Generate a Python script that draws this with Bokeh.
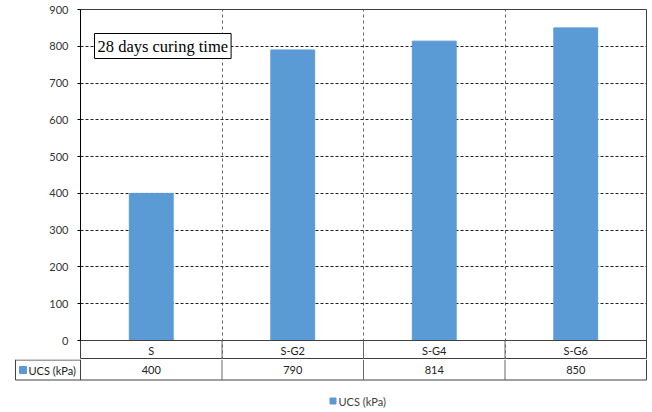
from bokeh.plotting import figure
from bokeh.models import Range1d, FixedTicker, Label
from bokeh.layouts import column
from bokeh.embed import file_html
from bokeh.resources import INLINE
from bokeh.core.properties import value

# ---- data ----
categories = ["S", "S-G2", "S-G4", "S-G6"]
ucs_values = [400, 790, 814, 850]
y_ticks = [0, 100, 200, 300, 400, 500, 600, 700, 800, 900]
series_name = "UCS (kPa)"
note_text = "28 days curing time"

BAR = "#5B9BD5"
FONT = "Lato"
n = len(categories)
xs = [i + 0.5 for i in range(n)]

W = 652
FL, FR = 80, 646            # frame left/right (px)
FT, F0, FB = 9, 340, 359    # frame top, zero line, frame bottom (px)
u = (FR - FL) / n           # px per category
v = (F0 - FT) / 900.0       # px per kPa


def to_x(px):
    return (px - FL) / u


def to_y(px):
    return (F0 - px) / v


# ---- main chart (includes first table row) ----
p = figure(width=W, height=FB, x_range=Range1d(0, n), y_range=Range1d(to_y(FB), 900),
           output_backend="svg", toolbar_location=None,
           min_border_left=FL, min_border_right=W - FR,
           min_border_top=FT, min_border_bottom=0,
           x_axis_location=None)
p.frame_align = False
p.vbar(x=xs, top=ucs_values, width=0.31, color=BAR)

p.yaxis.ticker = FixedTicker(ticks=y_ticks)
p.yaxis.bounds = (0, 900)
p.yaxis.major_label_text_font = FONT
p.yaxis.major_label_text_font_size = "11px"
p.yaxis.major_label_text_color = "#333333"
p.yaxis.axis_line_color = "black"
p.yaxis.major_tick_line_color = "black"
p.yaxis.major_tick_out = 3
p.yaxis.major_tick_in = 0
p.yaxis.minor_tick_line_color = None
p.yaxis.major_label_standoff = 9

p.ygrid.ticker = FixedTicker(ticks=y_ticks[1:-1])
p.ygrid.grid_line_color = "#222222"
p.ygrid.grid_line_dash = "3 2"
p.xgrid.ticker = FixedTicker(ticks=list(range(1, n)))
p.xgrid.bounds = (0, 900)
p.xgrid.grid_line_color = "#666666"
p.xgrid.grid_line_dash = "3 3"

p.outline_line_color = "#404040"

# zero line (table top) and first-row verticals
p.segment(x0=[0], y0=[0], x1=[n], y1=[0], line_color="#404040", line_width=1)
p.segment(x0=list(range(1, n)), y0=[0] * (n - 1), x1=list(range(1, n)),
          y1=[to_y(FB)] * (n - 1), line_color="#666666", line_width=1)
p.text(x=xs, y=[to_y(350)] * n, text=categories, text_font=value(FONT), text_font_size="11px",
       text_align="center", text_baseline="middle", text_color="#222222")

note = Label(x=to_x(94), y=to_y(33), text=note_text, text_align="left",
             text_baseline="top", anchor="top_left",
             border_line_color="black", border_line_width=1,
             background_fill_color="white", padding=3,
             text_font_size="16.5px", text_color="black")
note.text_font = "Liberation Serif"
p.add_layout(note)

# ---- second table row + legend ----
H2 = 412 - FB
q = figure(width=W, height=H2, x_range=Range1d(to_x(0), to_x(W)), y_range=Range1d(H2, 0),
           output_backend="svg", toolbar_location=None,
           min_border_left=0, min_border_right=0, min_border_top=0, min_border_bottom=0,
           x_axis_location=None, y_axis_location=None)
q.frame_align = False
q.grid.visible = False
q.outline_line_color = None

left_cell = to_x(15)
# top edge of the legend-key cell (rest is the chart frame's bottom edge)
q.segment(x0=[left_cell], y0=[0.5], x1=[0], y1=[0.5], line_color="#404040", line_width=1)
# bottom edge of the table
q.segment(x0=[left_cell], y0=[20.5], x1=[n], y1=[20.5], line_color="#404040", line_width=1)
q.segment(x0=[left_cell, 0, n], y0=[0, 0, 0], x1=[left_cell, 0, n], y1=[20.5] * 3,
          line_color="#404040", line_width=1)
q.segment(x0=list(range(1, n)), y0=[0] * (n - 1), x1=list(range(1, n)), y1=[20.5] * (n - 1),
          line_color="#666666", line_width=1)

q.text(x=xs, y=[10.5] * n, text=[str(val) for val in ucs_values], text_font=value(FONT),
       text_font_size="11px", text_align="center", text_baseline="middle", text_color="#222222")

# legend key inside the table
q.scatter(x=[to_x(22.5)], y=[10.5], marker="square", size=7, color=BAR)
q.text(x=[to_x(28)], y=[10.5], text=[series_name], text_font=value(FONT), text_font_size="11px",
       text_align="left", text_baseline="middle", text_color="#222222")

# bottom legend
q.scatter(x=[to_x(332.5)], y=[41.5], marker="square", size=6, color=BAR)
q.text(x=[to_x(338)], y=[42], text=[series_name], text_font=value(FONT), text_font_size="11px",
       text_align="left", text_baseline="middle", text_color="#404040")

layout = column(p, q, spacing=0)
open("out.html", "w").write(file_html(layout, INLINE))
